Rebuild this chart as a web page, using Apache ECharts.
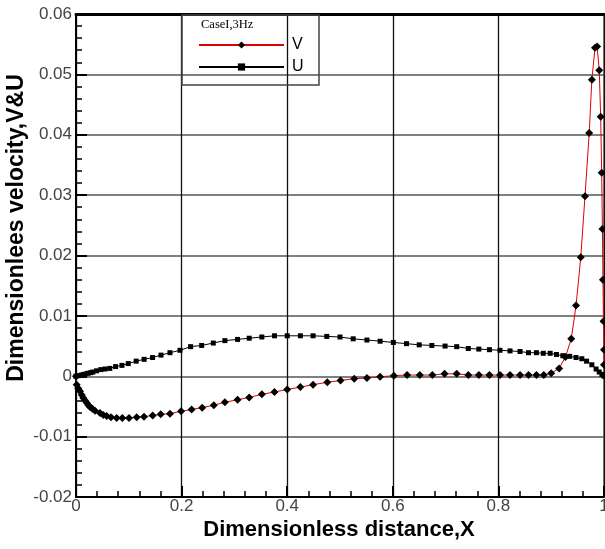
<!DOCTYPE html>
<html>
<head>
<meta charset="utf-8">
<script src="https://cdn.jsdelivr.net/npm/echarts@6/dist/echarts.min.js"></script>
<style>
  html, body { margin: 0; padding: 0; background: #fff; }
  #chart { width: 605px; height: 549px; }
</style>
</head>
<body>
<div id="chart"></div>
<script>
// Tick labels for both axes
const xTickLabels = ['0', '0.2', '0.4', '0.6', '0.8', '1'];
const yTickLabels = ['-0.02', '-0.01', '0', '0.01', '0.02', '0.03', '0.04', '0.05', '0.06'];

// Legend entries
const caseTitle = 'CaseI,3Hz';
const seriesNames = ['V', 'U'];

// V velocity profile: [X, V]
const vPoints = [
  [0, 0], [0.0013, -0.0014], [0.004, -0.0020], [0.0076, -0.0025], [0.011, -0.0031],
  [0.0139, -0.0036], [0.017, -0.0040], [0.0202, -0.0044], [0.0235, -0.0048], [0.0265, -0.0051],
  [0.031, -0.0054], [0.036, -0.0057], [0.0455, -0.0061], [0.0517, -0.0064], [0.058, -0.0066],
  [0.0663, -0.0068], [0.077, -0.0069], [0.0877, -0.0069], [0.1004, -0.0069], [0.1149, -0.0068],
  [0.1288, -0.0067], [0.1452, -0.0065], [0.1604, -0.0063], [0.178, -0.0062], [0.199, -0.0058],
  [0.219, -0.0055], [0.239, -0.0052], [0.261, -0.0048], [0.282, -0.0043], [0.306, -0.0039],
  [0.328, -0.0035], [0.352, -0.0030], [0.376, -0.0026], [0.400, -0.0022], [0.425, -0.0018],
  [0.449, -0.0014], [0.476, -0.0010], [0.501, -0.0007], [0.527, -0.0004], [0.551, -0.0003],
  [0.576, -0.0001], [0.602, 0.0001], [0.627, 0.0002], [0.651, 0.0002], [0.675, 0.0002],
  [0.698, 0.0004], [0.721, 0.0004], [0.743, 0.0002], [0.763, 0.0002], [0.783, 0.0002],
  [0.803, 0.0002], [0.822, 0.0002], [0.841, 0.0002], [0.857, 0.0002], [0.872, 0.0002],
  [0.886, 0.0002], [0.900, 0.0005], [0.915, 0.0013], [0.927, 0.0032], [0.938, 0.0062],
  [0.947, 0.0117], [0.956, 0.0197], [0.964, 0.0298], [0.972, 0.0403], [0.977, 0.0491],
  [0.983, 0.0544], [0.987, 0.0546], [0.991, 0.0507], [0.9937, 0.0430], [0.9956, 0.0337],
  [0.997, 0.0244], [0.998, 0.0160], [0.999, 0.0091], [1.0, 0.0044], [1.0, 0.0019]
];

// U velocity profile: [X, U]
const uPoints = [
  [0, 0], [0.005, 0.0001], [0.010, 0.0002], [0.014, 0.0003], [0.019, 0.0004],
  [0.023, 0.0005], [0.028, 0.0006], [0.032, 0.0007], [0.039, 0.0009], [0.047, 0.0011],
  [0.055, 0.0012], [0.064, 0.0013], [0.075, 0.0016], [0.087, 0.0018], [0.099, 0.0021],
  [0.114, 0.0025], [0.129, 0.0028], [0.145, 0.0031], [0.161, 0.0035], [0.178, 0.0039],
  [0.197, 0.0043], [0.217, 0.0049], [0.238, 0.0051], [0.260, 0.0055], [0.282, 0.0059],
  [0.306, 0.0061], [0.328, 0.0063], [0.352, 0.0065], [0.376, 0.0067], [0.400, 0.0067],
  [0.425, 0.0067], [0.449, 0.0067], [0.475, 0.0066], [0.500, 0.0065], [0.525, 0.0062],
  [0.551, 0.0060], [0.576, 0.0058], [0.601, 0.0056], [0.626, 0.0054], [0.650, 0.0052],
  [0.674, 0.0051], [0.699, 0.0050], [0.721, 0.0049], [0.743, 0.0046], [0.763, 0.0045],
  [0.783, 0.0044], [0.803, 0.0043], [0.822, 0.0042], [0.841, 0.0041], [0.857, 0.0039],
  [0.872, 0.0039], [0.885, 0.0038], [0.898, 0.0038], [0.910, 0.0036], [0.922, 0.0034],
  [0.935, 0.0033], [0.947, 0.0031], [0.958, 0.0029], [0.967, 0.0025], [0.977, 0.0019],
  [0.985, 0.0012], [0.991, 0.0007], [0.996, 0.0003], [1.0, 0]
];

const FONT = "'Liberation Sans', Arial, sans-serif";

const chart = echarts.init(document.getElementById('chart'), null, { renderer: 'canvas' });

function fmt(labels, min, step) {
  return function (v) {
    const i = Math.round((v - min) / step);
    return labels[i] !== undefined ? labels[i] : '';
  };
}

chart.setOption({
  animation: false,
  backgroundColor: '#fff',
  grid: {
    left: 76, right: 1, top: 14, bottom: 52,
    outerBoundsMode: 'none',
    containLabel: false,
    show: true, borderColor: '#000', borderWidth: 1
  },
  legend: {
    orient: 'vertical',
    left: 193,
    top: 32,
    itemWidth: 85,
    itemHeight: 9,
    itemGap: 6,
    data: seriesNames,
    textStyle: { fontFamily: FONT, fontSize: 16, lineHeight: 16, color: '#000', padding: [0, 0, 0, 3] }
  },
  xAxis: [{
    type: 'value',
    min: 0, max: 1, interval: 0.2,
    axisLine: { show: true, onZero: false, lineStyle: { color: '#000', width: 2 } },
    axisTick: { show: true, inside: true, length: 11, lineStyle: { color: '#000', width: 2 } },
    minorTick: { show: true, splitNumber: 5, length: 6, lineStyle: { color: '#000', width: 1.5 } },
    axisLabel: {
      margin: 1, fontFamily: FONT, fontSize: 17, color: '#444',
      formatter: fmt(xTickLabels, 0, 0.2)
    },
    splitLine: { show: true, lineStyle: { color: '#111', width: 1.3 } },
    minorSplitLine: { show: false }
  }, {
    type: 'value', position: 'top',
    min: 0, max: 1, interval: 0.2,
    axisLine: { show: true, onZero: false, lineStyle: { color: '#000', width: 3 } },
    axisTick: { show: false }, axisLabel: { show: false }, splitLine: { show: false }
  }],
  yAxis: {
    type: 'value',
    min: -0.02, max: 0.06, interval: 0.01,
    axisLine: { show: true, onZero: false, lineStyle: { color: '#000', width: 2 } },
    axisTick: { show: true, inside: true, length: 11, lineStyle: { color: '#000', width: 2 } },
    minorTick: { show: true, splitNumber: 5, length: 6, lineStyle: { color: '#000', width: 1.5 } },
    axisLabel: {
      margin: 4, fontFamily: FONT, fontSize: 17, color: '#444',
      formatter: fmt(yTickLabels, -0.02, 0.01)
    },
    splitLine: { show: true, lineStyle: { color: '#555', width: 1.5 } }
  },
  graphic: [
    {
      type: 'rect', silent: true, z: 100,
      shape: { x: 182, y: 15, width: 137, height: 70 },
      style: { fill: 'transparent', stroke: '#444', lineWidth: 1.5 }
    },
    {
      type: 'text', silent: true, z: 100, left: 201, top: 18,
      style: { text: caseTitle, font: "12.5px 'Liberation Serif', 'Times New Roman', serif", fill: '#000' }
    },
    {
      type: 'text', silent: true, z: 100,
      x: 17, y: 228, rotation: Math.PI / 2,
      style: {
        text: 'Dimensionlees velocity,V&U',
        font: "bold 23px " + FONT, fill: '#000',
        align: 'center', verticalAlign: 'middle'
      }
    },
    {
      type: 'text', silent: true, z: 100,
      x: 339, y: 530,
      style: {
        text: 'Dimensionless distance,X',
        font: "bold 22px " + FONT, fill: '#000',
        align: 'center', verticalAlign: 'middle'
      }
    }
  ],
  series: [
    {
      name: 'V', type: 'line', data: vPoints,
      symbol: 'diamond', symbolSize: 8,
      lineStyle: { color: '#e00000', width: 1 },
      itemStyle: { color: '#000' },
      z: 3
    },
    {
      name: 'U', type: 'line', data: uPoints,
      symbol: 'rect', symbolSize: 5,
      lineStyle: { color: '#000', width: 1 },
      itemStyle: { color: '#000' },
      z: 2
    }
  ]
});
</script>
</body>
</html>
